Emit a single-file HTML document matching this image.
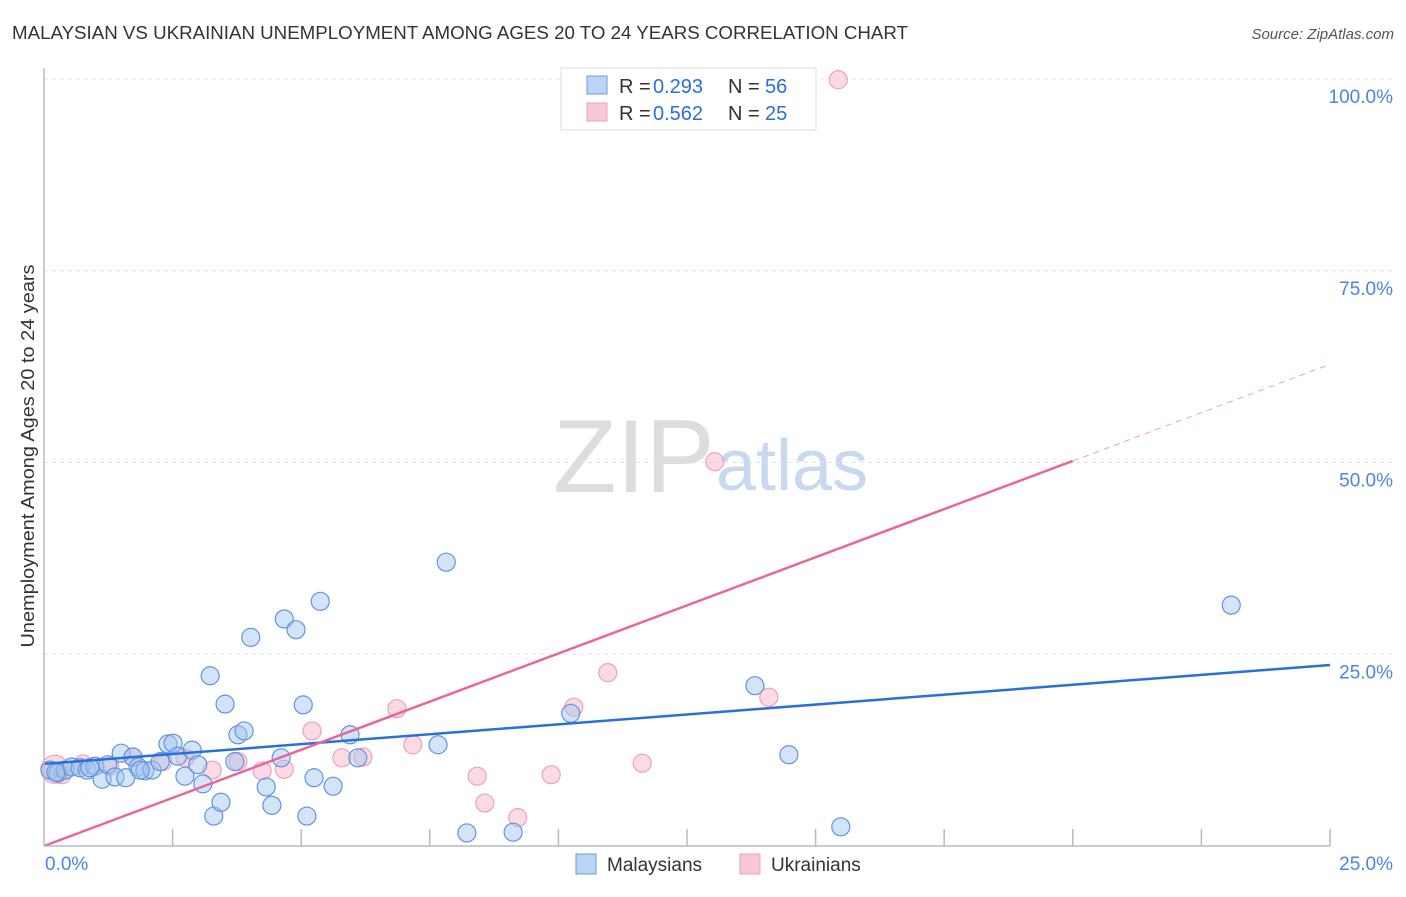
<!DOCTYPE html>
<html><head><meta charset="utf-8"><style>
body{margin:0;background:#fff;font-family:"Liberation Sans",sans-serif;}
svg text{font-family:"Liberation Sans",sans-serif;}
</style></head><body>
<svg width="1406" height="892" id="chart">
<text x="12" y="39" font-size="18" fill="#333" textLength="896" lengthAdjust="spacingAndGlyphs">MALAYSIAN VS UKRAINIAN UNEMPLOYMENT AMONG AGES 20 TO 24 YEARS CORRELATION CHART</text>
<text x="1394" y="39" font-size="15" fill="#555" font-style="italic" text-anchor="end">Source: ZipAtlas.com</text>
<text x="34" y="456" font-size="18" fill="#333" text-anchor="middle" textLength="383" lengthAdjust="spacingAndGlyphs" transform="rotate(-90 34 456)">Unemployment Among Ages 20 to 24 years</text>
<text x="553" y="492" font-size="104" fill="#ddd" font-family="Liberation Serif">ZIP</text>
<text x="716" y="490" font-size="72" fill="#c8d8f0">atlas</text>
<g id="grid"></g><g id="marks"></g>
<line x1="44" y1="68" x2="44" y2="846" stroke="#bbb" stroke-width="1.5"/>
<line x1="44" y1="846" x2="1330" y2="846" stroke="#bbb" stroke-width="1.5"/>
<text x="45" y="870" font-size="19" fill="#4a86e0">0.0%</text>
<text x="1393" y="870" font-size="19" fill="#4a86e0" text-anchor="end">25.0%</text>
<g>
<rect x="561" y="68" width="255" height="62" fill="#fff" stroke="#ddd"/>
<rect x="587" y="76" width="20" height="18" fill="#bcd4f5" stroke="#6b9de0"/>
<rect x="587" y="103" width="20" height="18" fill="#f9c8d6" stroke="#f0a0b8"/>
<text x="619" y="93" font-size="20" fill="#333">R =</text><text x="653" y="93" font-size="20" fill="#2a6fdb">0.293</text>
<text x="728" y="93" font-size="20" fill="#333">N =</text><text x="765" y="93" font-size="20" fill="#2a6fdb">56</text>
<text x="619" y="120" font-size="20" fill="#333">R =</text><text x="653" y="120" font-size="20" fill="#2a6fdb">0.562</text>
<text x="728" y="120" font-size="20" fill="#333">N =</text><text x="765" y="120" font-size="20" fill="#2a6fdb">25</text>
</g>
<g>
<rect x="576" y="854" width="20" height="20" fill="#bcd4f5" stroke="#6b9de0"/>
<text x="607" y="871" font-size="19" fill="#333">Malaysians</text>
<rect x="740" y="854" width="20" height="20" fill="#f9c8d6" stroke="#f0a0b8"/>
<text x="771" y="871" font-size="19" fill="#333">Ukrainians</text>
</g>
</svg>
<script>
const yTicks=[100,75,50,25];
const xTicks=[2.5,5,7.5,10,12.5,15,17.5,20,22.5,25];
const blueX=[0.12,0.27,0.41,0.54,0.70,0.84,0.99,1.13,1.24,1.38,1.50,1.59,1.73,1.83,1.96,2.10,2.26,2.41,2.51,2.60,2.74,2.88,2.99,3.09,3.23,3.30,3.44,3.52,3.77,3.89,3.71,4.02,4.32,4.43,4.61,4.67,4.90,5.04,5.11,5.25,5.37,5.62,5.95,6.10,7.66,7.82,8.22,9.12,10.24,13.82,14.48,15.49,23.08,0.23,0.89,1.87];
const blueY=[9.9,9.5,9.9,10.3,10.2,9.9,10.4,8.7,10.6,9.0,12.1,8.9,11.6,10.3,9.8,9.9,11.0,13.3,13.4,11.7,9.1,12.5,10.6,8.1,22.2,3.9,5.7,18.5,14.5,15.0,11.0,27.2,7.7,5.3,11.5,29.6,28.2,18.4,3.9,8.9,31.9,7.8,14.5,11.5,13.2,37.0,1.7,1.8,17.3,20.9,11.9,2.5,31.4,9.6,10.2,9.9];
const pinkX=[0.21,0.35,0.76,1.28,1.73,2.31,2.74,3.27,3.77,4.24,4.67,5.21,5.79,6.20,6.86,7.17,8.42,8.57,9.21,9.86,10.30,10.96,11.63,13.04,14.09,15.44];
const pinkY=[10.0,9.3,10.7,10.4,11.6,11.0,11.5,9.9,11.0,9.8,10.0,15.0,11.5,11.6,17.9,13.2,9.1,5.6,3.7,9.3,18.1,22.6,10.8,50.1,19.4,99.9];
const pinkSize=[14,9,9,9,9,9,9,9,9,9,9,9,9,9,9,9,9,9,9,9,9,9,9,9,9,9];
const blueTrend=[10.7,23.6];
const pinkTrend=[0,50.2,62.8];
const sx=v=>44+v*51.44, sy=v=>846-v*7.67;
const NS='http://www.w3.org/2000/svg';
const grid=document.getElementById('grid'), marks=document.getElementById('marks');
function mk(tag,attrs,parent){const e=document.createElementNS(NS,tag);for(const k in attrs)e.setAttribute(k,attrs[k]);parent.appendChild(e);return e;}
yTicks.forEach(t=>{
 const l=mk('line',{x1:44,x2:1393,y1:sy(t),y2:sy(t),stroke:'#e2e2e2','stroke-dasharray':'4 4'},grid);
 
 
 const tx=mk('text',{x:1393,y:sy(t)+24,'font-size':19,fill:'#4a86e0','text-anchor':'end'},grid);
 tx.textContent=t.toFixed(1)+'%';
 
 
});
xTicks.forEach(t=>{
 const l=mk('line',{x1:sx(t),x2:sx(t),y1:829,y2:846,stroke:'#bbb','stroke-width':1.5},grid);
 
 
});
function dots(X,Y,S,fill,stroke,name){
 X.forEach((x,i)=>{
  const c=mk('circle',{cx:sx(x),cy:sy(Y[i]),r:S?S[i]:9,fill:fill,stroke:stroke,'stroke-width':1.2},marks);
  
  
 });
}
dots(pinkX,pinkY,pinkSize,'rgba(245,175,196,0.45)','#f0a0b8','ukrainian-point');
dots(blueX,blueY,null,'rgba(160,195,240,0.45)','#5f95de','malaysian-point');
const bt=mk('line',{x1:sx(0),y1:sy(blueTrend[0]),x2:sx(25),y2:sy(blueTrend[1]),stroke:'#2a6fdb','stroke-width':2.5},marks);


const pt=mk('line',{x1:sx(0),y1:sy(pinkTrend[0]),x2:sx(20),y2:sy(pinkTrend[1]),stroke:'#e8679a','stroke-width':2.5},marks);


const pd=mk('line',{x1:sx(20),y1:sy(pinkTrend[1]),x2:sx(25),y2:sy(pinkTrend[2]),stroke:'#f0a0b8','stroke-width':1,'stroke-dasharray':'6 5'},marks);


</script>
</body></html>
